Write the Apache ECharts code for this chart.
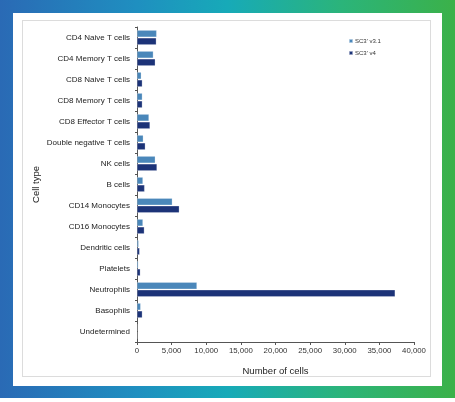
<!DOCTYPE html>
<html>
<head>
<meta charset="utf-8">
<script src="https://cdn.jsdelivr.net/npm/echarts@6/dist/echarts.min.js"></script>
<style>
  body { margin: 0; width: 455px; height: 402px; position: relative; background: #fff; overflow: hidden; }
  #frame { position: absolute; left: 0; top: 0; width: 455px; height: 398px;
           background: linear-gradient(90deg, #2a6ab5 0%, #1f8fc0 30%, #17aab8 50%, #2bb47a 75%, #3bb149 100%); }
  #inner { position: absolute; left: 13px; top: 13px; width: 429px; height: 373px; background: #fff; }
  #box { position: absolute; left: 22px; top: 20px; width: 407px; height: 355px; border: 1.5px solid #dcdcdc; }
  #chart { position: absolute; left: 0; top: 0; width: 455px; height: 402px; }
</style>
</head>
<body>
<div id="frame"></div>
<div id="inner"></div>
<div id="box"></div>
<div id="chart"></div>
<script>
// cell types top to bottom
var cellTypes = ['CD4 Naive T cells', 'CD4 Memory T cells', 'CD8 Naive T cells', 'CD8 Memory T cells',
  'CD8 Effector T cells', 'Double negative T cells', 'NK cells', 'B cells', 'CD14 Monocytes',
  'CD16 Monocytes', 'Dendritic cells', 'Platelets', 'Neutrophils', 'Basophils', 'Undetermined'];
var v31 = [2840, 2360, 620, 770, 1730, 910, 2640, 860, 5100, 860, 240, 190, 8660, 530, 0];
var v4 = [2790, 2640, 770, 770, 1880, 1200, 2890, 1100, 6110, 1060, 380, 480, 37280, 770, 0];

var chart = echarts.init(document.getElementById('chart'));
var option = {
  animation: false,
  textStyle: { fontFamily: 'Liberation Sans, Arial, sans-serif' },
  legend: {
    orient: 'vertical',
    left: 343, top: 33,
    itemWidth: 4, itemHeight: 4, itemGap: 6,
    textStyle: { fontSize: 6, color: '#333', padding: [0, 0, 0, -3] },
    data: ["SC3' v3.1", "SC3' v4"]
  },
  grid: { left: 137, right: 41, top: 27, bottom: 60, containLabel: false },
  xAxis: {
    type: 'value', min: 0, max: 40000, interval: 5000,
    name: 'Number of cells', nameLocation: 'middle', nameGap: 24,
    nameTextStyle: { fontSize: 9.5, color: '#222' },
    axisLine: { show: true, lineStyle: { color: '#555', width: 1 } },
    axisTick: { show: true, length: 3, lineStyle: { color: '#555' } },
    splitLine: { show: false },
    axisLabel: { fontSize: 7.8, color: '#333', margin: 5,
      formatter: function (v) { return v.toLocaleString('en-US'); } }
  },
  yAxis: {
    type: 'category', inverse: true, data: cellTypes,
    name: 'Cell type', nameLocation: 'middle', nameGap: 96, nameRotate: 90,
    nameMoveOverlap: false,
    nameTextStyle: { fontSize: 9.5, color: '#222' },
    axisLine: { lineStyle: { color: '#555', width: 1 } },
    axisTick: { show: true, length: 2, inside: false, lineStyle: { color: '#555' } },
    axisLabel: { fontSize: 8, color: '#222', margin: 7 }
  },
  series: [
    { name: "SC3' v3.1", type: 'bar', data: v31, barWidth: 7, barGap: '10%',
      itemStyle: { color: '#4a87ba', borderColor: 'rgba(255,255,255,0.5)', borderWidth: 0.5 } },
    { name: "SC3' v4", type: 'bar', data: v4, barWidth: 7,
      itemStyle: { color: '#1c3378', borderColor: 'rgba(255,255,255,0.5)', borderWidth: 0.5 } }
  ]
};
chart.setOption(option);
</script>
</body>
</html>
